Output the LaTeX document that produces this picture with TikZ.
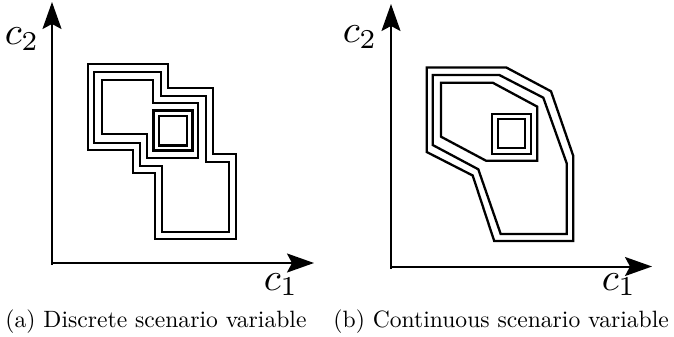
\documentclass[tikz,border=0pt]{standalone}
\usepackage{tikz}
\usetikzlibrary{arrows.meta}
\tikzset{
  axis/.style={line width=2pt, -{Stealth[length=27pt, width=19pt, inset=5pt]}},
  region/.style={line width=2.3pt, line join=miter},
  axislabel/.style={scale=3.9, transform shape, inner sep=0pt, anchor=base west},
  caption/.style={scale=2.36, transform shape, inner sep=0pt, anchor=base west},
}

\begin{document}
\begin{tikzpicture}[x=1pt, y=-1pt]
  \useasboundingbox (0,0) rectangle (674,337);
  % Axes, left panel
  \coordinate (oA) at (52,263);
  \coordinate (xA) at (314,263);
  \coordinate (yA) at (52,2);
  \draw[axis] (oA) -- (xA);
  \draw[axis] (oA |- 0,265) -- (yA);
  \node[axislabel] (c2A) at (4,45) {$c_2$};
  \node[axislabel] (c1A) at (263,290) {$c_1$};
  % Nested stepped regions
  \draw[region] (87.7,64.3) -- (167.7,64.3) -- (167.7,88.3) -- (213.3,88.3)
    -- (213.3,154) -- (235.7,154) -- (235.7,239) -- (155.3,239) -- (155.3,173.3)
    -- (133,173.3) -- (133,149.7) -- (87.7,149.7) -- cycle;
  \draw[region] (94.3,71.7) -- (161,71.7) -- (161,96) -- (205.7,96)
    -- (205.7,161.7) -- (229,161.7) -- (229,231.7) -- (162.3,231.7) -- (162.3,165.7)
    -- (140,165.7) -- (140,142.7) -- (94.3,142.7) -- cycle;
  \draw[region] (101.7,80) -- (153.3,80) -- (153.3,103.3) -- (198.3,103.3)
    -- (198.3,158.3) -- (146.7,158.3) -- (146.7,134.3) -- (101.7,134.3) -- cycle;
  \draw[region] (153.5,110.5) rectangle (192.5,150.5);
  \draw[region] (159,116) rectangle (187,145.5);

  % Axes, right panel
  \coordinate (oB) at (391,266.5);
  \coordinate (xB) at (652,266.5);
  \coordinate (yB) at (391,4);
  \draw[axis] (oB) -- (xB);
  \draw[axis] (oB |- 0,268.5) -- (yB);
  \node[axislabel] (c2B) at (342,43) {$c_2$};
  \node[axislabel] (c1B) at (601,290) {$c_1$};
  % Nested polygonal regions
  \draw[region] (426.7,67.5) -- (506.3,67.5) -- (551,91.3) -- (573.3,156)
    -- (573.3,241) -- (494.2,241) -- (472.7,175.5) -- (426.7,152) -- cycle;
  \draw[region] (432.7,75) -- (499.3,75) -- (543.3,97.7) -- (566.7,163.3)
    -- (566.7,234) -- (500.7,234) -- (478.3,169.3) -- (432.7,145) -- cycle;
  \draw[region] (441,82.7) -- (492.7,82.7) -- (537.3,106.7) -- (537.3,160.7)
    -- (486,160.7) -- (441,136.7) -- cycle;
  \draw[region] (492.3,114) rectangle (530.7,154);
  \draw[region] (498.3,119.3) rectangle (525,147.7);

  % Captions
  \node[caption] (capA) at (5,327) {(a) Discrete scenario variable};
  \node[caption] (capB) at (333,327) {(b) Continuous scenario variable};
\end{tikzpicture}
\end{document}
